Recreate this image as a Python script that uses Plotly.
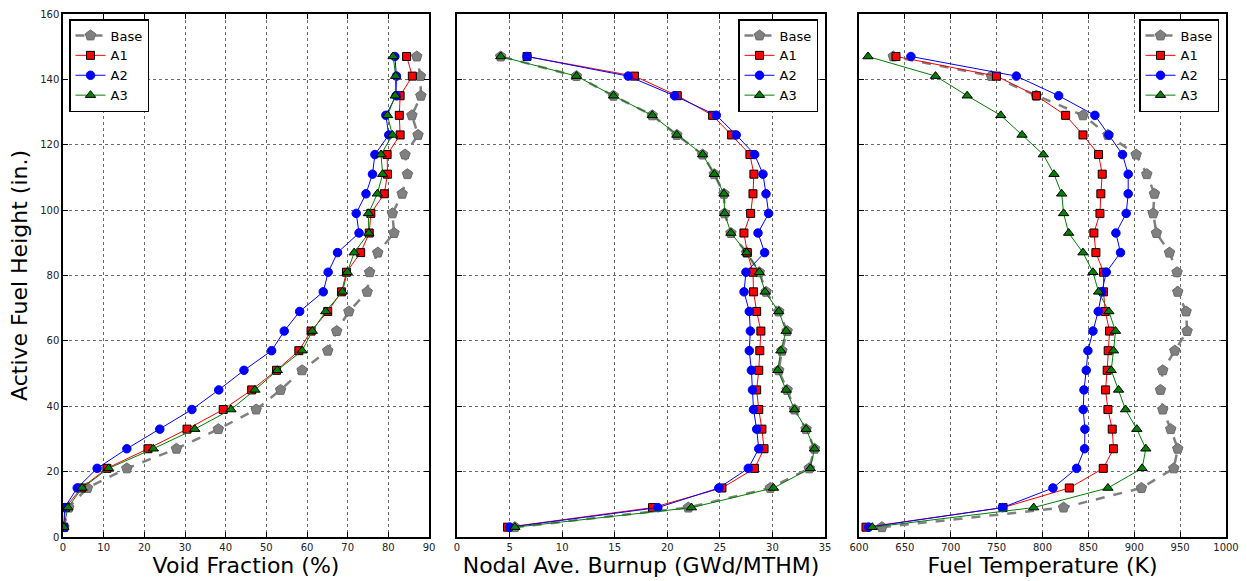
import plotly.graph_objects as go

height = [3, 9, 15, 21, 27, 33, 39, 45, 51, 57, 63, 69, 75, 81, 87, 93, 99, 105, 111, 117, 123, 129, 135, 141, 147]

# Void fraction (%)
void_base = [0.2, 1.4, 6.0, 15.7, 27.9, 38.2, 47.5, 53.5, 58.8, 65.1, 67.3, 70.3, 74.8, 75.4, 77.4, 81.4, 81.0, 83.4, 84.7, 84.1, 87.3, 85.8, 88.0, 87.9, 87.0]
void_a1 = [0.2, 0.6, 4.5, 10.8, 20.9, 30.5, 39.4, 46.4, 52.5, 58.0, 61.0, 65.1, 68.5, 69.7, 73.2, 75.3, 75.7, 79.0, 79.8, 79.7, 82.9, 82.7, 82.9, 85.9, 84.5]
void_a2 = [0.2, 0.4, 3.5, 8.4, 15.7, 23.8, 31.7, 38.3, 44.5, 51.3, 54.4, 58.2, 64.0, 65.2, 67.5, 72.8, 72.1, 74.5, 76.1, 76.7, 80.1, 79.4, 81.9, 82.0, 81.6]
void_a3 = [0.2, 1.2, 4.7, 11.2, 22.2, 32.4, 41.3, 47.2, 52.7, 58.8, 61.3, 64.6, 68.7, 69.9, 71.6, 75.2, 75.1, 77.3, 78.6, 78.2, 81.0, 79.8, 81.7, 81.8, 81.2]

# Nodal average burnup (GWd/MTHM)
bu_base = [5.5, 22.0, 29.8, 33.5, 34.0, 33.2, 32.1, 31.4, 30.6, 30.9, 31.4, 30.6, 29.4, 28.75, 27.55, 26.05, 25.45, 25.39, 24.47, 23.36, 20.91, 18.57, 14.88, 11.36, 4.16]
bu_a1 = [4.8, 18.6, 25.2, 28.3, 29.2, 29.0, 28.7, 28.5, 28.7, 28.8, 28.9, 28.5, 28.2, 28.15, 27.61, 27.29, 27.93, 28.15, 28.24, 27.86, 26.12, 24.31, 20.95, 16.88, 6.66]
bu_a2 = [5.0, 19.1, 24.9, 27.7, 28.7, 28.5, 28.2, 28.1, 28.0, 27.8, 27.9, 27.8, 27.3, 27.48, 29.26, 28.63, 29.64, 29.39, 29.1, 28.31, 26.56, 24.66, 20.69, 16.28, 6.66]
bu_a3 = [5.5, 22.3, 30.1, 33.6, 34.0, 33.2, 32.1, 31.3, 30.5, 30.8, 31.3, 30.6, 29.3, 28.75, 27.55, 26.05, 25.45, 25.39, 24.47, 23.36, 20.91, 18.57, 14.88, 11.36, 4.16]

# Fuel temperature (K)
ft_base = [625.0, 823.0, 907.9, 943.1, 947.4, 939.8, 931.1, 928.6, 931.1, 944.2, 957.6, 956.5, 947.4, 946.7, 938.4, 924.2, 920.6, 922.0, 913.7, 902.1, 871.3, 844.1, 793.3, 744.3, 637.4]
ft_a1 = [607.6, 757.0, 829.2, 866.2, 877.4, 876.0, 871.3, 868.7, 870.5, 871.6, 873.1, 868.4, 866.5, 866.5, 858.2, 856.0, 862.6, 863.6, 865.1, 861.1, 844.1, 825.2, 793.3, 749.8, 640.3]
ft_a2 = [610.5, 756.3, 811.4, 837.2, 845.9, 846.2, 844.4, 845.2, 847.7, 849.5, 855.0, 860.7, 864.7, 869.5, 885.0, 880.0, 891.2, 893.4, 893.4, 887.2, 872.3, 857.1, 817.6, 771.5, 656.6]
ft_a3 = [614.5, 790.4, 871.3, 908.6, 912.6, 902.8, 890.5, 882.9, 874.9, 877.4, 879.6, 872.3, 861.1, 855.0, 844.1, 828.5, 823.0, 820.9, 812.5, 800.9, 777.7, 754.5, 717.9, 683.4, 609.8]

series_names = ["Base", "A1", "A2", "A3"]

styles = {
    "Base": dict(line=dict(color="#808080", width=2.5, dash="dash"),
                 marker=dict(symbol="pentagon", size=11, color="#808080", line=dict(color="#6a6a6a", width=1))),
    "A1": dict(line=dict(color="#ff0000", width=1),
               marker=dict(symbol="square", size=8, color="#ff0000", line=dict(color="#000000", width=1))),
    "A2": dict(line=dict(color="#0000ff", width=1),
               marker=dict(symbol="circle", size=8.5, color="#0000ff", line=dict(color="#0000ff", width=1))),
    "A3": dict(line=dict(color="#008000", width=1),
               marker=dict(symbol="triangle-up", size=9, color="#008000", line=dict(color="#000000", width=1))),
}

panels = [
    (dict(zip(series_names, [void_base, void_a1, void_a2, void_a3])), "x", "y", "legend"),
    (dict(zip(series_names, [bu_base, bu_a1, bu_a2, bu_a3])), "x2", "y2", "legend2"),
    (dict(zip(series_names, [ft_base, ft_a1, ft_a2, ft_a3])), "x3", "y3", "legend3"),
]

fig = go.Figure()
for data, xa, ya, lg in panels:
    for name in series_names:
        fig.add_trace(go.Scatter(
            x=data[name], y=height, mode="lines+markers", name=name,
            xaxis=xa, yaxis=ya, legend=lg, **styles[name]))

FONT = "DejaVu Sans"
W, H = 1247, 581
ytop, ybot = 14, 537
ydom = [1 - ybot / H, 1 - ytop / H]
xdoms = [[63 / W, 429 / W], [457 / W, 825 / W], [859 / W, 1226 / W]]

common_axis = dict(
    showline=True, linecolor="black", linewidth=1.5, mirror="ticks",
    ticks="inside", ticklen=5, tickcolor="black",
    showgrid=True, gridcolor="#6a6a6a", griddash="dot", gridwidth=1,
    zeroline=False, tickfont=dict(family=FONT, size=10, color="#222"),
    automargin=False,
)

x_specs = [
    dict(range=[0, 90], dtick=10, tick0=0, title="Void Fraction (%)"),
    dict(range=[0, 35], dtick=5, tick0=0, title="Nodal Ave. Burnup (GWd/MTHM)"),
    dict(range=[600, 1000], dtick=50, tick0=600, title="Fuel Temperature (K)"),
]

layout = dict(
    width=W, height=H, margin=dict(l=0, r=0, t=0, b=0),
    paper_bgcolor="white", plot_bgcolor="white",
    font=dict(family=FONT, color="black"),
)

for i, (xs, dom) in enumerate(zip(x_specs, xdoms)):
    suffix = "" if i == 0 else str(i + 1)
    layout["xaxis" + suffix] = dict(
        common_axis, domain=dom, anchor="y" + suffix,
        range=xs["range"], dtick=xs["dtick"], tick0=xs["tick0"],
        title=dict(text=xs["title"], font=dict(family=FONT, size=22, color="black"), standoff=5),
    )
    yax = dict(common_axis, domain=ydom, anchor="x" + suffix,
               range=[0, 160], dtick=20, tick0=0)
    if i == 0:
        yax["title"] = dict(text="Active Fuel Height (in.)", font=dict(family=FONT, size=22, color="black"), standoff=6)
    else:
        yax["showticklabels"] = False
    layout["yaxis" + suffix] = yax

legend_common = dict(
    bgcolor="white", bordercolor="black", borderwidth=1.5,
    font=dict(family=FONT, size=13, color="black"),
    tracegroupgap=0,
    yanchor="top", y=1 - 19 / H,
)
layout["legend"] = dict(legend_common, xanchor="left", x=69 / W)
layout["legend2"] = dict(legend_common, xanchor="right", x=818 / W)
layout["legend3"] = dict(legend_common, xanchor="right", x=1219 / W)

fig.update_layout(**layout)
fig.write_html("out.html", config={"displayModeBar": False},
               post_script="document.body.style.margin='0px';document.body.style.overflow='hidden';")
